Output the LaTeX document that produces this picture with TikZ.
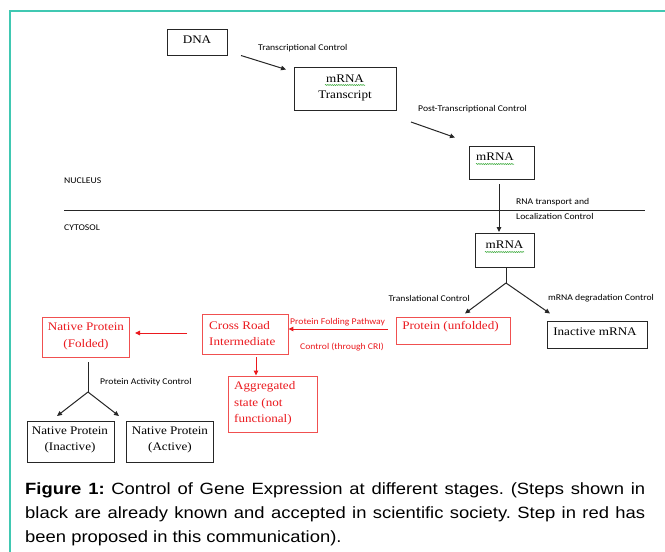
\documentclass[tikz,border=0pt]{standalone}
\usepackage{fontspec}
\setmainfont{Liberation Serif}[FakeStretch=1.13]
\newfontfamily\lblfont{Carlito}[FakeStretch=1.1]
\newfontfamily\capfont{Liberation Sans}[FakeStretch=1.13]
\usetikzlibrary{arrows.meta,decorations.pathmorphing}
\definecolor{framecol}{RGB}{64,200,178}
\definecolor{rtext}{RGB}{235,25,30}
\definecolor{rbox}{RGB}{240,80,80}
\definecolor{wavy}{RGB}{60,170,60}
\frenchspacing
\begin{document}
\begin{tikzpicture}[x=1pt,y=-1pt,
  bbox/.style={draw=black!85, line width=0.9pt, inner sep=0pt},
  rrbox/.style={draw=rbox, line width=0.9pt, inner sep=0pt},
  serif/.style={inner sep=0pt, font=\fontsize{11.6}{16.5}\selectfont},
  rserif/.style={serif, text=rtext},
  lbl/.style={inner sep=0pt, font=\lblfont\fontsize{8.8}{11}\selectfont},
  rlbl/.style={lbl, text=rtext},
  arr/.style={draw=black!85, line width=1pt, -{Triangle[length=5pt,width=4.5pt]}},
  rarr/.style={draw=rtext, line width=1pt, -{Triangle[length=5pt,width=4.5pt]}},
  plain/.style={draw=black!85, line width=1pt},
  spell/.style={draw=wavy, line width=0.5pt, decorate, decoration={snake, amplitude=0.6pt, segment length=2.2pt}}
]
\useasboundingbox (0,0) rectangle (665,552);
\fill[white] (0,0) rectangle (665,552);
\draw[framecol, line width=2pt] (9.5,552) -- (9.5,10.5) -- (665,10.5);

% boxes
\node[bbox, minimum width=60pt, minimum height=26pt] (dna) at (197,42) {};
\node[bbox, minimum width=102pt, minimum height=43pt] (tr) at (345,88.5) {};
\node[bbox, minimum width=65pt, minimum height=33pt] (m1) at (501.5,162.5) {};
\node[bbox, minimum width=59pt, minimum height=34pt] (m2) at (504.5,250) {};
\node[rrbox, minimum width=114pt, minimum height=27pt] (pu) at (453,330.5) {};
\node[bbox, minimum width=100pt, minimum height=27pt] (im) at (597,334.5) {};
\node[rrbox, minimum width=86pt, minimum height=40pt] (cr) at (245,334) {};
\node[rrbox, minimum width=87pt, minimum height=40pt] (nf) at (85.5,337) {};
\node[rrbox, minimum width=89pt, minimum height=56pt] (ag) at (272.5,404) {};
\node[bbox, minimum width=87pt, minimum height=41pt] (ni) at (70.5,441.5) {};
\node[bbox, minimum width=87pt, minimum height=41pt] (na) at (169.5,441.5) {};

% box texts
\node[serif] (dna-t) at (197,40) {DNA};
\node[serif, align=center] (tr-t) at (345,88) {mRNA\\Transcript};
\node[serif] (m1-t) at (495,157) {mRNA};
\node[serif] (m2-t) at (504.5,245) {mRNA};
\node[rserif] (pu-t) at (450.5,327) {Protein (unfolded)};
\node[serif] (im-t) at (595,332) {Inactive mRNA};
\node[rserif, align=left, anchor=west] (cr-t) at (209,333.5) {Cross Road\\Intermediate};
\node[rserif, align=center] (nf-t) at (86,336.5) {Native Protein\\(Folded)};
\node[rserif, align=left, anchor=west] (ag-t) at (234,403.5) {Aggregated\\state (not\\functional)};
\node[serif, align=center] (ni-t) at (70,440) {Native Protein\\(Inactive)};
\node[serif, align=center] (na-t) at (170,440) {Native Protein\\(Active)};

% spell-check underlines
\draw[spell] (325,85) -- (365,85);
\draw[spell] (476,164) -- (514,164);
\draw[spell] (485,252) -- (524,252);

% labels
\node[lbl, anchor=west] (l1) at (258,48) {Transcriptional Control};
\node[lbl, anchor=west] (l2) at (418,109) {Post-Transcriptional Control};
\node[lbl, anchor=west] (nuc) at (64,181) {NUCLEUS};
\node[lbl, anchor=west] (cyt) at (64,228) {CYTOSOL};
\node[lbl, anchor=west] (l3) at (516,202) {RNA transport and};
\node[lbl, anchor=west] (l4) at (516,216) {Localization Control};
\node[lbl, anchor=east] (l5) at (470,298) {Translational Control};
\node[lbl, anchor=west] (l6) at (548,298) {mRNA degradation Control};
\node[rlbl, anchor=west] (l7) at (290,322.5) {Protein Folding Pathway};
\node[rlbl, anchor=west] (l8) at (300,347) {Control (through CRI)};
\node[lbl, anchor=west] (l9) at (100,382) {Protein Activity Control};

% membrane line
\coordinate (hl1) at (64,210);
\coordinate (hl2) at (645,210);
\draw[black!85, line width=0.8pt] (hl1) -- (hl2);

% black connectors
\coordinate (a1s) at (241,55.5);
\coordinate (a1e) at (286,69.5);
\draw[arr] (a1s) -- (a1e);
\coordinate (a2s) at (411,122);
\coordinate (a2e) at (455,137.5);
\draw[arr] (a2s) -- (a2e);
\coordinate (a3s) at (499,184);
\coordinate (a3e) at (499,232);
\draw[arr] (a3s) -- (a3e);

\coordinate (f1) at (506,283);
\draw[plain] (m2.south -| f1) -- (f1);
\coordinate (f1l) at (465,313.5);
\coordinate (f1r) at (550,313.5);
\draw[arr] (f1) -- (f1l);
\draw[arr] (f1) -- (f1r);

\coordinate (f2t) at (88,362);
\coordinate (f2) at (88,392);
\coordinate (f2l) at (57,416);
\coordinate (f2r) at (119,416);
\draw[plain] (f2t) -- (f2);
\draw[arr] (f2) -- (f2l);
\draw[arr] (f2) -- (f2r);

% red connectors
\coordinate (r1s) at (388,329);
\draw[rarr] (r1s) -- (r1s -| cr.east);
\coordinate (r2s) at (187,333);
\coordinate (r2e) at (135,333);
\draw[rarr] (r2s) -- (r2e);
\coordinate (r3s) at (256,357);
\draw[rarr] (r3s) -- (r3s |- ag.north);

% caption
\node[anchor=north west, inner sep=0pt, text width=620pt, align=justify,
      font=\capfont\fontsize{16.3}{24}\selectfont] (cap) at (25,482.5)
{\textbf{Figure 1:} Control of Gene Expression at different stages. (Steps shown in\linebreak
black are already known and accepted in scientific society. Step in red has\linebreak
been proposed in this communication).};
\end{tikzpicture}
\end{document}
